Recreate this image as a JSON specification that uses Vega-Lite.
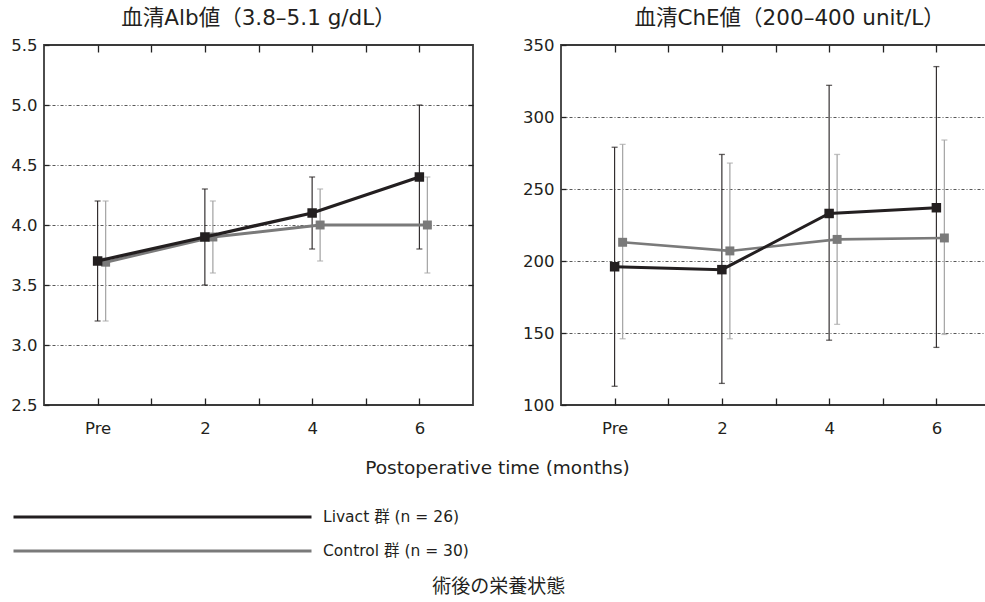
{
  "$schema": "https://vega.github.io/schema/vega-lite/v6.json",
  "padding": {"left": 9, "top": 6, "right": 0, "bottom": 2},
  "bounds": "flush",
  "spacing": 88,
  "datasets": {
    "d": [
      {"panel": "Alb", "arm": "Livact", "label": "Livact 群 (n = 26)", "month": 0, "mean": 3.7, "lo": 3.2, "hi": 4.2},
      {"panel": "Alb", "arm": "Livact", "label": "Livact 群 (n = 26)", "month": 2, "mean": 3.9, "lo": 3.5, "hi": 4.3},
      {"panel": "Alb", "arm": "Livact", "label": "Livact 群 (n = 26)", "month": 4, "mean": 4.1, "lo": 3.8, "hi": 4.4},
      {"panel": "Alb", "arm": "Livact", "label": "Livact 群 (n = 26)", "month": 6, "mean": 4.4, "lo": 3.8, "hi": 5.0},
      {"panel": "Alb", "arm": "Control", "label": "Control 群 (n = 30)", "month": 0, "mean": 3.69, "lo": 3.2, "hi": 4.2},
      {"panel": "Alb", "arm": "Control", "label": "Control 群 (n = 30)", "month": 2, "mean": 3.9, "lo": 3.6, "hi": 4.2},
      {"panel": "Alb", "arm": "Control", "label": "Control 群 (n = 30)", "month": 4, "mean": 4.0, "lo": 3.7, "hi": 4.3},
      {"panel": "Alb", "arm": "Control", "label": "Control 群 (n = 30)", "month": 6, "mean": 4.0, "lo": 3.6, "hi": 4.4},
      {"panel": "ChE", "arm": "Livact", "label": "Livact 群 (n = 26)", "month": 0, "mean": 196, "lo": 113, "hi": 279},
      {"panel": "ChE", "arm": "Livact", "label": "Livact 群 (n = 26)", "month": 2, "mean": 194, "lo": 115, "hi": 274},
      {"panel": "ChE", "arm": "Livact", "label": "Livact 群 (n = 26)", "month": 4, "mean": 233, "lo": 145, "hi": 322},
      {"panel": "ChE", "arm": "Livact", "label": "Livact 群 (n = 26)", "month": 6, "mean": 237, "lo": 140, "hi": 335},
      {"panel": "ChE", "arm": "Control", "label": "Control 群 (n = 30)", "month": 0, "mean": 213, "lo": 146, "hi": 281},
      {"panel": "ChE", "arm": "Control", "label": "Control 群 (n = 30)", "month": 2, "mean": 207, "lo": 146, "hi": 268},
      {"panel": "ChE", "arm": "Control", "label": "Control 群 (n = 30)", "month": 4, "mean": 215, "lo": 156, "hi": 274},
      {"panel": "ChE", "arm": "Control", "label": "Control 群 (n = 30)", "month": 6, "mean": 216, "lo": 149, "hi": 284}
    ]
  },
  "title": {
    "text": "術後の栄養状態",
    "orient": "bottom",
    "anchor": "middle",
    "fontSize": 19,
    "font": "Noto Sans CJK JP",
    "fontWeight": "normal",
    "color": "#231f20",
    "offset": 10,
    "dx": -2
  },
  "hconcat": [
    {
      "width": 429,
      "height": 360,
      "data": {"name": "d"},
      "transform": [{"filter": "datum.panel === 'Alb'"}],
      "title": {"text": "血清Alb値（3.8–5.1 g/dL）", "fontSize": 21.5, "font": "DejaVu Sans, Noto Sans CJK JP", "fontWeight": "normal", "color": "#231f20", "offset": 8},
      "resolve": {"axis": {"x": "independent", "y": "independent"}},
      "layer": [
        {
          "transform": [{"filter": "datum.arm === 'Control'"}],
          "mark": {"type": "rule", "xOffset": 8, "color": "#a8a8a8", "strokeWidth": 1.3},
          "encoding": {
            "x": {"field": "month", "type": "quantitative", "scale": {"domain": [-1, 7], "nice": false, "zero": false},
              "axis": {"orient": "bottom", "values": [0, 1, 2, 3, 4, 5, 6], "labelExpr": "datum.value === 0 ? 'Pre' : (datum.value % 2 === 0 ? datum.label : '')", "tickSize": -7, "labelPadding": 22, "domain": false, "grid": false,
                "title": "Postoperative time (months)", "titleX": 453, "titleY": 62, "titleAlign": "center", "titleBaseline": "middle"}},
            "y": {"field": "lo", "type": "quantitative", "scale": {"domain": [2.5, 5.5], "nice": false, "zero": false},
              "axis": {"orient": "left", "values": [2.5, 3, 3.5, 4, 4.5, 5, 5.5], "format": ".1f", "tickSize": -5, "labelPadding": 12, "domain": false, "grid": true, "title": null,
                "gridOpacity": {"condition": {"test": "datum.value === 2.5 || datum.value === 5.5", "value": 0}, "value": 1}}},
            "y2": {"field": "hi"}
          }
        },
        {
          "transform": [{"filter": "datum.arm === 'Control'"}],
          "mark": {"type": "tick", "orient": "horizontal", "xOffset": 8, "color": "#a8a8a8", "size": 6, "thickness": 1.3},
          "encoding": {
            "x": {"field": "month", "type": "quantitative", "axis": {"orient": "top", "values": [0, 1, 2, 3, 4, 5, 6], "labels": false, "tickSize": -7, "domain": false, "grid": false, "title": null}},
            "y": {"field": "lo", "type": "quantitative", "axis": {"orient": "right", "values": [3, 3.5, 4, 4.5, 5], "labels": false, "tickSize": -5, "domain": false, "grid": false, "title": null}}
          }
        },
        {
          "transform": [{"filter": "datum.arm === 'Control'"}],
          "mark": {"type": "tick", "orient": "horizontal", "xOffset": 8, "color": "#a8a8a8", "size": 6, "thickness": 1.3},
          "encoding": {
            "x": {"field": "month", "type": "quantitative", "axis": null},
            "y": {"field": "hi", "type": "quantitative", "axis": null}
          }
        },
        {
          "transform": [{"filter": "datum.arm === 'Livact'"}],
          "mark": {"type": "rule", "color": "#231f20", "strokeWidth": 1.1},
          "encoding": {
            "x": {"field": "month", "type": "quantitative", "axis": null},
            "y": {"field": "lo", "type": "quantitative", "axis": null},
            "y2": {"field": "hi"}
          }
        },
        {
          "transform": [{"filter": "datum.arm === 'Livact'"}],
          "mark": {"type": "tick", "orient": "horizontal", "color": "#231f20", "size": 6, "thickness": 1.3},
          "encoding": {
            "x": {"field": "month", "type": "quantitative", "axis": null},
            "y": {"field": "lo", "type": "quantitative", "axis": null}
          }
        },
        {
          "transform": [{"filter": "datum.arm === 'Livact'"}],
          "mark": {"type": "tick", "orient": "horizontal", "color": "#231f20", "size": 6, "thickness": 1.3},
          "encoding": {
            "x": {"field": "month", "type": "quantitative", "axis": null},
            "y": {"field": "hi", "type": "quantitative", "axis": null}
          }
        },
        {
          "transform": [{"filter": "datum.arm === 'Control'"}],
          "mark": {"type": "line", "xOffset": 8, "strokeWidth": 3},
          "encoding": {
            "x": {"field": "month", "type": "quantitative", "axis": null},
            "y": {"field": "mean", "type": "quantitative", "axis": null},
            "color": {"field": "label", "type": "nominal", "scale": {"domain": ["Livact 群 (n = 26)", "Control 群 (n = 30)"], "range": ["#231f20", "#7a7a7a"]}, "legend": {"title": null}}
          }
        },
        {
          "transform": [{"filter": "datum.arm === 'Control'"}],
          "mark": {"type": "point", "shape": "square", "filled": true, "opacity": 1, "xOffset": 8, "color": "#7a7a7a", "size": 80},
          "encoding": {
            "x": {"field": "month", "type": "quantitative", "axis": null},
            "y": {"field": "mean", "type": "quantitative", "axis": null}
          }
        },
        {
          "transform": [{"filter": "datum.arm === 'Livact'"}],
          "mark": {"type": "line", "strokeWidth": 3.3},
          "encoding": {
            "x": {"field": "month", "type": "quantitative", "axis": null},
            "y": {"field": "mean", "type": "quantitative", "axis": null},
            "color": {"field": "label", "type": "nominal", "legend": {"title": null}}
          }
        },
        {
          "transform": [{"filter": "datum.arm === 'Livact'"}],
          "mark": {"type": "point", "shape": "square", "filled": true, "opacity": 1, "color": "#231f20", "size": 90},
          "encoding": {
            "x": {"field": "month", "type": "quantitative", "axis": null},
            "y": {"field": "mean", "type": "quantitative", "axis": null}
          }
        }
      ]
    },
    {
      "width": 429,
      "height": 360,
      "data": {"name": "d"},
      "transform": [{"filter": "datum.panel === 'ChE'"}],
      "title": {"text": "血清ChE値（200–400 unit/L）", "fontSize": 21.5, "font": "DejaVu Sans, Noto Sans CJK JP", "fontWeight": "normal", "color": "#231f20", "offset": 8, "dx": 14},
      "resolve": {"axis": {"x": "independent", "y": "independent"}},
      "layer": [
        {
          "transform": [{"filter": "datum.arm === 'Control'"}],
          "mark": {"type": "rule", "xOffset": 8, "color": "#a8a8a8", "strokeWidth": 1.3},
          "encoding": {
            "x": {"field": "month", "type": "quantitative", "scale": {"domain": [-1, 7], "nice": false, "zero": false},
              "axis": {"orient": "bottom", "values": [0, 1, 2, 3, 4, 5, 6], "labelExpr": "datum.value === 0 ? 'Pre' : (datum.value % 2 === 0 ? datum.label : '')", "tickSize": -7, "labelPadding": 22, "domain": false, "grid": false, "title": null}},
            "y": {"field": "lo", "type": "quantitative", "scale": {"domain": [100, 350], "nice": false, "zero": false},
              "axis": {"orient": "left", "values": [100, 150, 200, 250, 300, 350], "format": "d", "tickSize": -5, "labelPadding": 12, "domain": false, "grid": true, "title": null,
                "gridOpacity": {"condition": {"test": "datum.value === 100 || datum.value === 350", "value": 0}, "value": 1}}},
            "y2": {"field": "hi"}
          }
        },
        {
          "transform": [{"filter": "datum.arm === 'Control'"}],
          "mark": {"type": "tick", "orient": "horizontal", "xOffset": 8, "color": "#a8a8a8", "size": 6, "thickness": 1.3},
          "encoding": {
            "x": {"field": "month", "type": "quantitative", "axis": {"orient": "top", "values": [0, 1, 2, 3, 4, 5, 6], "labels": false, "tickSize": -7, "domain": false, "grid": false, "title": null}},
            "y": {"field": "lo", "type": "quantitative", "axis": {"orient": "right", "values": [150, 200, 250, 300], "labels": false, "tickSize": -5, "domain": false, "grid": false, "title": null}}
          }
        },
        {
          "transform": [{"filter": "datum.arm === 'Control'"}],
          "mark": {"type": "tick", "orient": "horizontal", "xOffset": 8, "color": "#a8a8a8", "size": 6, "thickness": 1.3},
          "encoding": {
            "x": {"field": "month", "type": "quantitative", "axis": null},
            "y": {"field": "hi", "type": "quantitative", "axis": null}
          }
        },
        {
          "transform": [{"filter": "datum.arm === 'Livact'"}],
          "mark": {"type": "rule", "color": "#231f20", "strokeWidth": 1.1},
          "encoding": {
            "x": {"field": "month", "type": "quantitative", "axis": null},
            "y": {"field": "lo", "type": "quantitative", "axis": null},
            "y2": {"field": "hi"}
          }
        },
        {
          "transform": [{"filter": "datum.arm === 'Livact'"}],
          "mark": {"type": "tick", "orient": "horizontal", "color": "#231f20", "size": 6, "thickness": 1.3},
          "encoding": {
            "x": {"field": "month", "type": "quantitative", "axis": null},
            "y": {"field": "lo", "type": "quantitative", "axis": null}
          }
        },
        {
          "transform": [{"filter": "datum.arm === 'Livact'"}],
          "mark": {"type": "tick", "orient": "horizontal", "color": "#231f20", "size": 6, "thickness": 1.3},
          "encoding": {
            "x": {"field": "month", "type": "quantitative", "axis": null},
            "y": {"field": "hi", "type": "quantitative", "axis": null}
          }
        },
        {
          "transform": [{"filter": "datum.arm === 'Control'"}],
          "mark": {"type": "line", "xOffset": 8, "strokeWidth": 2.6},
          "encoding": {
            "x": {"field": "month", "type": "quantitative", "axis": null},
            "y": {"field": "mean", "type": "quantitative", "axis": null},
            "color": {"field": "label", "type": "nominal", "legend": {"title": null}}
          }
        },
        {
          "transform": [{"filter": "datum.arm === 'Control'"}],
          "mark": {"type": "point", "shape": "square", "filled": true, "opacity": 1, "xOffset": 8, "color": "#7a7a7a", "size": 80},
          "encoding": {
            "x": {"field": "month", "type": "quantitative", "axis": null},
            "y": {"field": "mean", "type": "quantitative", "axis": null}
          }
        },
        {
          "transform": [{"filter": "datum.arm === 'Livact'"}],
          "mark": {"type": "line", "strokeWidth": 3},
          "encoding": {
            "x": {"field": "month", "type": "quantitative", "axis": null},
            "y": {"field": "mean", "type": "quantitative", "axis": null},
            "color": {"field": "label", "type": "nominal", "legend": {"title": null}}
          }
        },
        {
          "transform": [{"filter": "datum.arm === 'Livact'"}],
          "mark": {"type": "point", "shape": "square", "filled": true, "opacity": 1, "color": "#231f20", "size": 90},
          "encoding": {
            "x": {"field": "month", "type": "quantitative", "axis": null},
            "y": {"field": "mean", "type": "quantitative", "axis": null}
          }
        }
      ]
    }
  ],
  "config": {
    "font": "DejaVu Sans, Noto Sans CJK JP",
    "view": {"stroke": "#3a3a3a", "strokeWidth": 1.8},
    "axis": {
      "labelFont": "DejaVu Sans",
      "labelFontSize": 16.5,
      "labelColor": "#231f20",
      "tickColor": "#222222",
      "tickWidth": 1.3,
      "gridColor": "#444444",
      "gridDash": [3, 2, 1, 2],
      "gridWidth": 0.9,
      "titleFont": "DejaVu Sans",
      "titleFontWeight": "normal",
      "titleFontSize": 18.5,
      "titleColor": "#231f20"
    },
    "legend": {
      "orient": "none",
      "legendX": -32,
      "legendY": 455,
      "symbolType": "stroke",
      "symbolSize": 88804,
      "symbolStrokeWidth": 3,
      "clipHeight": 34,
      "rowPadding": 0,
      "padding": 0,
      "labelFont": "DejaVu Sans, Noto Sans CJK JP",
      "labelFontSize": 15.5,
      "labelColor": "#231f20",
      "labelOffset": 10
    }
  }
}
